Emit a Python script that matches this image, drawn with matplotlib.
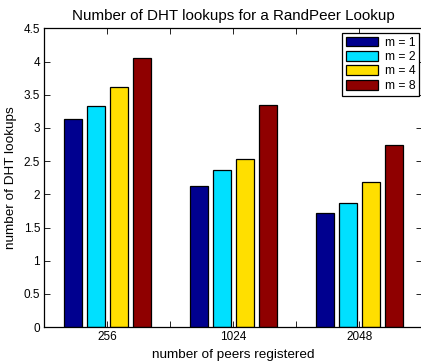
import matplotlib
matplotlib.use("Agg")
import matplotlib.pyplot as plt
import numpy as np

plt.rcParams['font.family'] = ['Liberation Sans', 'DejaVu Sans']

peers = ['256', '1024', '2048']
series = ['m = 1', 'm = 2', 'm = 4', 'm = 8']
lookups = [
    [3.14, 2.13, 1.72],   # m = 1
    [3.33, 2.37, 1.87],   # m = 2
    [3.62, 2.53, 2.18],   # m = 4
    [4.06, 3.35, 2.74],   # m = 8
]
colors = ['#00008f', '#00e0ff', '#ffdf00', '#8f0000']

W, H = 421, 362
fig = plt.figure(figsize=(W / 100, H / 100), dpi=100)
# axes box in pixels: left 44, right 422.5 (runs past the edge), top 28.4, bottom 327.2
ax = fig.add_axes([44.3 / W, 1 - 327.2 / H, (422.5 - 44.3) / W, (327.2 - 28.4) / H])

x = np.arange(1, len(peers) + 1)
n = len(series)
group = min(0.8, n / (n + 1.5))
slot = group / n
width = 0.8 * slot
for i, (vals, c, lab) in enumerate(zip(lookups, colors, series)):
    off = -group / 2 + slot * (i + 0.5)
    ax.bar(x + off, vals, width=width, color=c, edgecolor='black',
           linewidth=0.9, label=lab)

ax.set_xlim(0.5, 3.5)
ax.set_ylim(0, 4.5)
ax.set_xticks([1, 1.5, 2, 2.5, 3])
ax.set_xticklabels(['256', '', '1024', '', '2048'])
ax.set_yticks(np.arange(0, 4.51, 0.5))
ax.set_yticklabels(['0', '0.5', '1', '1.5', '2', '2.5', '3', '3.5', '4', '4.5'])
ax.tick_params(direction='in', top=True, right=True, length=4, width=0.6,
               labelsize=8.5, pad=3)
for s in ax.spines.values():
    s.set_linewidth(0.9)

ax.set_title('Number of DHT lookups for a RandPeer Lookup', fontsize=10.9, pad=6)
ax.set_xlabel('number of peers registered', fontsize=9.7, labelpad=4)
ax.set_ylabel('number of DHT lookups', fontsize=9.7, labelpad=5)

leg = ax.legend(loc='upper right', bbox_to_anchor=(419 / W, 1 - 33 / H),
                bbox_transform=fig.transFigure, fontsize=8.7, frameon=True,
                fancybox=False, edgecolor='black', framealpha=1,
                handlelength=2.6, handleheight=0.85, labelspacing=0.2,
                handletextpad=0.6, borderpad=0.3, borderaxespad=0)
leg.get_frame().set_linewidth(0.9)

fig.savefig('out.png', dpi=100)
